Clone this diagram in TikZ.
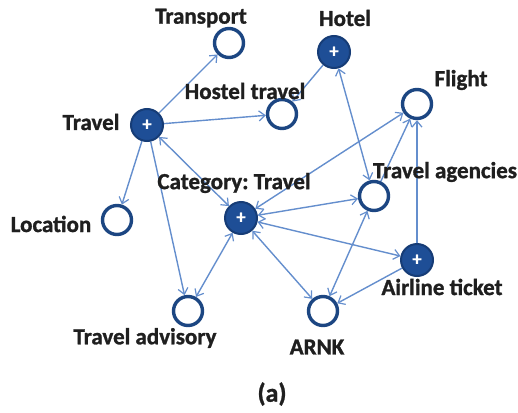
\documentclass[tikz,border=0pt]{standalone}
\usepackage{fontspec}
\setmainfont{Carlito}[BoldFeatures={FakeBold=1.2}]
\usetikzlibrary{arrows.meta}
\definecolor{ringblue}{RGB}{28,70,130}
\definecolor{nodeblue}{RGB}{30,78,150}
\definecolor{ringdark}{RGB}{22,60,118}
\definecolor{edgeblue}{RGB}{100,142,205}
\frenchspacing
\pgfdeclarelayer{edges}
\pgfsetlayers{edges,main}
\begin{document}
\begin{tikzpicture}[x=1pt,y=-1pt,
  lbl/.style={font=\fontsize{23}{26}\selectfont\bfseries, text=black!88, inner sep=0pt},
  hollow/.style={circle, draw=ringblue, line width=3.4pt, fill=white, minimum size=29pt, inner sep=0pt},
  filledcirc/.style={circle, draw=ringdark, line width=2pt, fill=nodeblue, minimum size=32pt, inner sep=0pt,
    text=white, font=\fontsize{19}{19}\selectfont\bfseries},
  tip/.tip={Straight Barb[length=6pt,width=10pt,line width=1.2pt]},
  link/.style={draw=edgeblue, line width=1.4pt, -tip},
  twoway/.style={draw=edgeblue, line width=1.4pt, tip-tip}
]
\useasboundingbox (0,0) rectangle (518,412);

% concept nodes
\node[hollow] (transport) at (229,43) {};
\node[filledcirc] (hotel) at (334,52) {+};
\node[hollow] (hostel) at (282,114) {};
\node[hollow] (flight) at (417,104) {};
\node[filledcirc] (travel) at (147,125) {+};
\node[filledcirc] (category) at (241,218) {+};
\node[hollow] (agencies) at (374,196) {};
\node[hollow] (location) at (117,220) {};
\node[filledcirc] (airline) at (417,260) {+};
\node[hollow] (advisory) at (188,311) {};
\node[hollow] (arnk) at (323,311) {};

% relations, kept beneath the nodes
\begin{pgfonlayer}{edges}
\draw[link] (travel) -- (transport);
\draw[link] (travel) -- (hostel);
\draw[link] (hotel) -- (hostel);
\draw[twoway] (hotel) -- (agencies);
\draw[twoway] (category) -- (flight);
\draw[link] (agencies) -- (flight);
\draw[link] (airline) -- (flight);
\draw[link] (travel) -- (location);
\draw[link] (travel) -- (advisory);
\draw[twoway] (travel) -- (category);
\draw[twoway] (category) -- (advisory);
\draw[twoway] (category) -- (agencies);
\draw[twoway] (category) -- (airline);
\draw[twoway] (category) -- (arnk);
\draw[twoway] (arnk) -- (agencies);
\draw[link] (airline) -- (arnk);
\end{pgfonlayer}

% labels
\node[lbl] (ltransport) at (201,18) {Transport};
\node[lbl] (lhotel) at (345,18) {Hotel};
\node[lbl] (lhostel) at (245,91) {Hostel travel};
\node[lbl] (lflight) at (461,80) {Flight};
\node[lbl] (ltravel) at (91,122) {Travel};
\node[lbl] (lcategory) at (234,183) {Category: Travel};
\node[lbl] (lagencies) at (445,172) {Travel agencies};
\node[lbl] (llocation) at (51,224) {Location};
\node[lbl] (lairline) at (442,287) {Airline ticket};
\node[lbl] (ladvisory) at (145,338) {Travel advisory};
\node[lbl] (larnk) at (317,347) {ARNK};
\node[lbl, font=\fontsize{26}{28}\selectfont\bfseries] (caption) at (272,394) {(a)};
\end{tikzpicture}
\end{document}
